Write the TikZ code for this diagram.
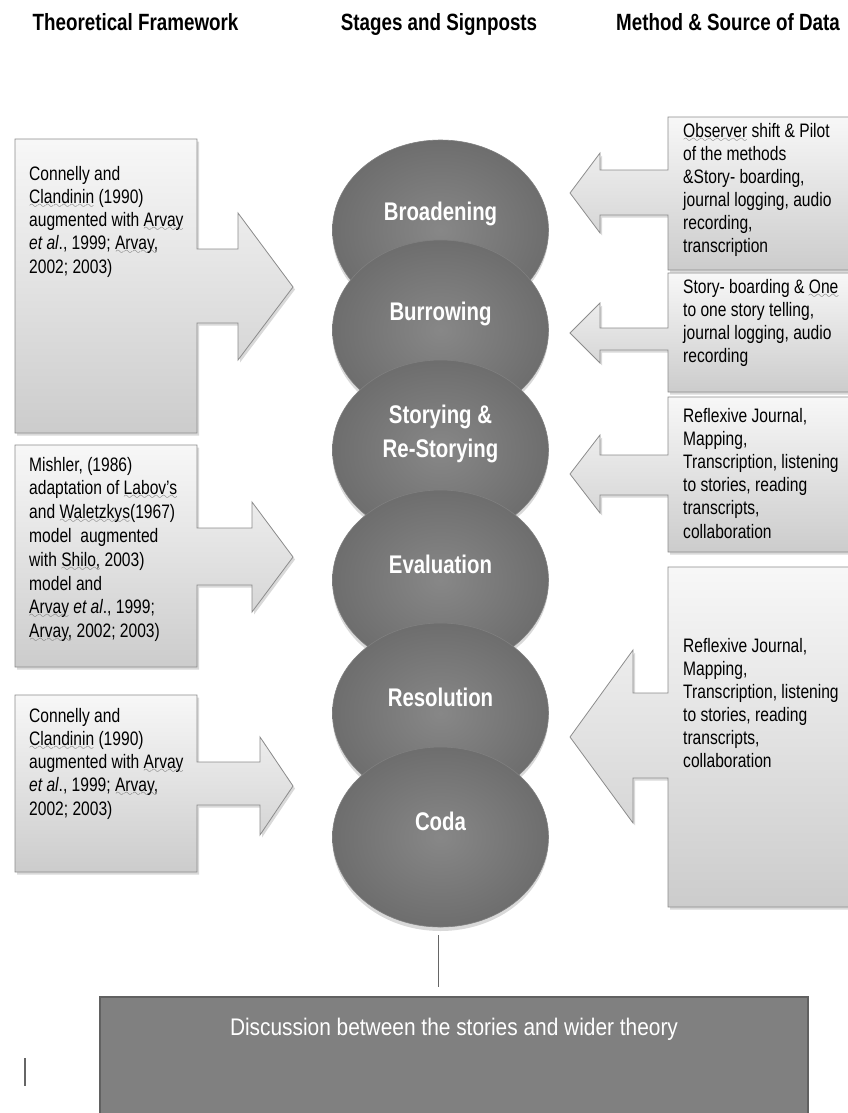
\documentclass[tikz,border=0pt]{standalone}
\usepackage{fontspec}
\setmainfont{Liberation Sans}[FakeStretch=0.8]
\newfontfamily\discfont{Liberation Sans}[FakeStretch=0.87]
\usetikzlibrary{shapes.geometric,shadows}
\font\mywave=lasy10 at 11pt
\newcommand\sqw[1]{\leavevmode\setbox0\hbox{#1}\rlap{\lower5pt\hbox to\wd0{\color{black!60}\xleaders\hbox{\mywave\char58}\hfil}}\box0\relax}
\newcommand\bline[1]{\hbox{#1}}
\begin{document}
\begin{tikzpicture}[x=1pt,y=-1pt,
  callout/.style={draw=black!45, line width=0.8pt, top color=black!3, bottom color=black!20,
    drop shadow={shadow xshift=2pt, shadow yshift=-2.5pt, opacity=0.3}},
  boxtext/.style={anchor=base west, inner sep=0pt,
    font=\fontsize{19.5}{23.3}\selectfont},
  head/.style={anchor=base, inner sep=0pt, font=\fontsize{23.5}{28}\selectfont\bfseries},
  stage/.style={ellipse, minimum width=216pt, minimum height=180pt, inner sep=0pt,
    draw=black!50, line width=0.6pt, inner color=black!47, outer color=black!57,
    drop shadow={shadow xshift=0pt, shadow yshift=-4pt, opacity=0.3}},
  stagetext/.style={text=white, font=\fontsize{25.5}{34}\selectfont\bfseries, align=center, yshift=16pt},
  disc/.style={rectangle, minimum width=708pt, minimum height=123pt, inner sep=0pt,
    fill=black!50, draw=black!62, line width=1.2pt},
  conn/.style={draw=black!60, line width=1pt}]
\useasboundingbox (0,0) rectangle (847,1113);

% headers
\node[head] (h1) at (135.5,31) {Theoretical Framework};
\node[head] (h2) at (439,31) {Stages and Signposts};
\node[head] (h3) at (728,31) {Method \& Source of Data};

% left callouts
\draw[callout] (15,139) -- (197,139) -- (197,249) -- (238,249) -- (238,213) -- (293,287)
  -- (238,360) -- (238,323) -- (197,323) -- (197,433) -- (15,433) -- cycle;
\draw[callout] (15,445) -- (197,445) -- (197,528) -- (252,528) -- (252,502) -- (293,557)
  -- (252,612) -- (252,585) -- (197,585) -- (197,667) -- (15,667) -- cycle;
\draw[callout] (15,695) -- (197,695) -- (197,762) -- (260,762) -- (260,737) -- (293,786)
  -- (260,835) -- (260,805) -- (197,805) -- (197,872) -- (15,872) -- cycle;

% right callouts
\draw[callout] (860,117) -- (668,117) -- (668,170) -- (600,170) -- (600,153) -- (570,193)
  -- (600,233) -- (600,215) -- (668,215) -- (668,270) -- (860,270) -- cycle;
\draw[callout] (860,273) -- (668,273) -- (668,328) -- (600,328) -- (600,303) -- (570,333)
  -- (600,363) -- (600,350) -- (668,350) -- (668,392) -- (860,392) -- cycle;
\draw[callout] (860,397) -- (668,397) -- (668,455) -- (600,455) -- (600,435) -- (570,474)
  -- (600,513) -- (600,495) -- (668,495) -- (668,552) -- (860,552) -- cycle;
\draw[callout] (860,567) -- (668,567) -- (668,693) -- (633,693) -- (633,650) -- (570,737)
  -- (633,823) -- (633,778) -- (668,778) -- (668,907) -- (860,907) -- cycle;

% left texts
\node[boxtext] (l1) at (29,180) {\vtop{%
  \bline{Connelly and}
  \bline{\sqw{Clandinin} (1990)}
  \bline{augmented with \sqw{Arvay}}
  \bline{\textit{et al}., 1999; \sqw{Arvay,}}
  \bline{2002; 2003)}}};
\node[boxtext, font=\fontsize{19.5}{23.8}\selectfont] (l2) at (29,471) {\vtop{%
  \bline{Mishler, (1986)}
  \bline{adaptation of \sqw{Labov’s}}
  \bline{and \sqw{Waletzkys}(1967)}
  \bline{model\ \ augmented}
  \bline{with \sqw{Shilo,} 2003)}
  \bline{model and}
  \bline{\sqw{Arvay} \textit{et al}., 1999;}
  \bline{\sqw{Arvay,} 2002; 2003)}}};
\node[boxtext] (l3) at (29,722) {\vtop{%
  \bline{Connelly and}
  \bline{\sqw{Clandinin} (1990)}
  \bline{augmented with \sqw{Arvay}}
  \bline{\textit{et al}., 1999; \sqw{Arvay,}}
  \bline{2002; 2003)}}};

% right texts
\begin{scope}
\clip (668,117) rectangle (860,256);
\node[boxtext, font=\fontsize{19.5}{23}\selectfont] (r1) at (683,138) {\vtop{%
  \bline{\sqw{Observer} shift \& Pilot}
  \bline{of the methods}
  \bline{\&Story- boarding,}
  \bline{journal logging, audio}
  \bline{recording,}
  \bline{transcription}}};
\end{scope}
\node[boxtext, font=\fontsize{19.5}{23}\selectfont] (r2) at (683,293) {\vtop{%
  \bline{Story- boarding \& \sqw{One}}
  \bline{to one story telling,}
  \bline{journal logging, audio}
  \bline{recording}}};
\node[boxtext, font=\fontsize{19.5}{23.2}\selectfont] (r3) at (683,422) {\vtop{%
  \bline{Reflexive Journal,}
  \bline{Mapping,}
  \bline{Transcription, listening}
  \bline{to stories, reading}
  \bline{transcripts,}
  \bline{collaboration}}};
\node[boxtext, font=\fontsize{19.5}{23}\selectfont] (r4) at (683,652) {\vtop{%
  \bline{Reflexive Journal,}
  \bline{Mapping,}
  \bline{Transcription, listening}
  \bline{to stories, reading}
  \bline{transcripts,}
  \bline{collaboration}}};

% stages
\node[stage, label={[stagetext]center:Broadening}] (s1) at (440.5,230) {};
\node[stage, label={[stagetext]center:Burrowing}] (s2) at (440.5,330) {};
\node[stage, label={[stagetext]center:Storying \&\\Re-Storying}] (s3) at (440.5,450) {};
\node[stage, label={[stagetext]center:Evaluation}] (s4) at (440.5,580) {};
\node[stage, label={[stagetext]center:Resolution}] (s5) at (440.5,713) {};
\node[stage, label={[stagetext]center:Coda}] (s6) at (440.5,837) {};

% discussion
\node[disc] (disc) at (454,1058.5) {};
\node[anchor=base, inner sep=0pt, text=white, font=\discfont\fontsize{24}{28}\selectfont] (dtext) at (454,1035)
  {Discussion between the stories and wider theory};

\coordinate (lt) at (438,935);
\draw[conn, shorten >=9pt] (lt) -- (lt |- disc.north);

\coordinate (bar1) at (25,1058);
\coordinate (bar2) at (25,1086);
\draw[draw=black!60, line width=1.6pt] (bar1) -- (bar2);
\end{tikzpicture}
\end{document}
